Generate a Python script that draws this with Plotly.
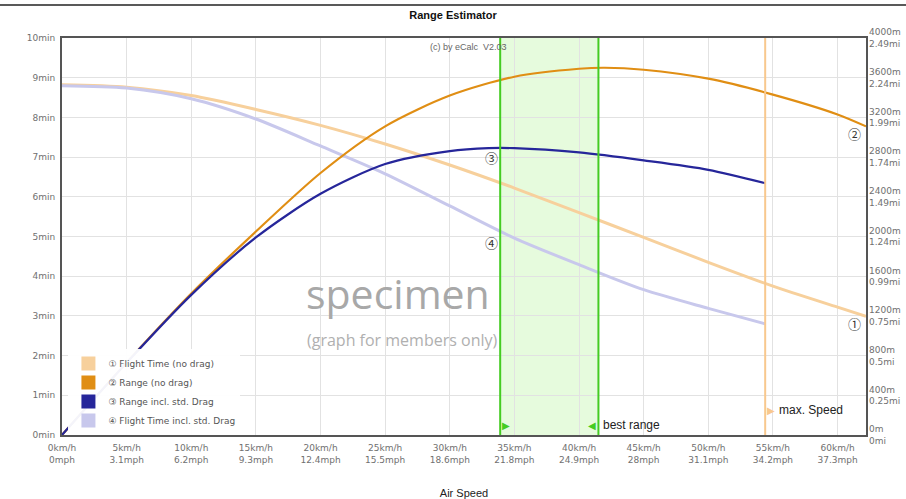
import plotly.graph_objects as go

# ---------------- data ----------------
speed_ft = [0, 5, 10, 15, 20, 25, 30, 35, 40, 45, 50, 55, 60, 62.2]
flight_time_nodrag = [8.82, 8.76, 8.55, 8.20, 7.80, 7.33, 6.80, 6.22, 5.60, 4.98, 4.35, 3.75, 3.22, 2.99]

speed_rng = [0, 5, 10, 15, 20, 25, 30, 35, 40, 42, 45, 50, 55, 60, 62.2]
range_nodrag = [0, 730, 1425, 2050, 2640, 3110, 3420, 3610, 3690, 3700, 3680, 3590, 3430, 3230, 3110]

speed_lav = [0, 5, 10, 15, 20, 25, 30, 35, 40, 45, 50, 54.4]
flight_time_drag = [8.80, 8.74, 8.47, 7.96, 7.28, 6.58, 5.77, 4.96, 4.29, 3.66, 3.19, 2.80]

speed_navy = [0, 5, 10, 15, 20, 25, 30, 33, 35, 40, 45, 50, 54.4]
range_drag = [0, 728, 1412, 1990, 2430, 2730, 2860, 2890, 2890, 2847, 2767, 2672, 2538]

best_range = [33.9, 41.5]     # km/h
max_speed = 54.4              # km/h

x_ticks = [0, 5, 10, 15, 20, 25, 30, 35, 40, 45, 50, 55, 60]
x_kmh = ["0km/h", "5km/h", "10km/h", "15km/h", "20km/h", "25km/h", "30km/h",
         "35km/h", "40km/h", "45km/h", "50km/h", "55km/h", "60km/h"]
x_mph = ["0mph", "3.1mph", "6.2mph", "9.3mph", "12.4mph", "15.5mph", "18.6mph",
         "21.8mph", "24.9mph", "28mph", "31.1mph", "34.2mph", "37.3mph"]

y_min_ticks = list(range(0, 11))
y_min_labels = [f"{v}min" for v in y_min_ticks]

y_m_ticks = [0, 400, 800, 1200, 1600, 2000, 2400, 2800, 3200, 3600, 4000]
y_mi_labels = ["0mi", "0.25mi", "0.5mi", "0.75mi", "0.99mi", "1.24mi",
               "1.49mi", "1.74mi", "1.99mi", "2.24mi", "2.49mi"]

series_names = ["\u2460 Flight Time (no drag)", "\u2461 Range (no drag)",
                "\u2462 Range incl. std. Drag", "\u2463 Flight Time incl. std. Drag"]

# ---------------- styles ----------------
C_PEACH = "#f7d09c"
C_ORANGE = "#e08e14"
C_NAVY = "#26269a"
C_LAV = "#c8c8ec"
C_GREEN = "#44cc22"
C_BAND = "#e6fbdd"
C_MAX = "#f8c88e"
TICK_FONT = dict(family="DejaVu Sans", size=9, color="#707070")
CIRC_FONT = dict(family="Noto Sans CJK SC, DejaVu Sans", size=13, color="#333333")

fig = go.Figure()

# lines
fig.add_trace(go.Scatter(x=speed_ft, y=flight_time_nodrag, mode="lines",
                         line=dict(color=C_PEACH, width=3, shape="spline", smoothing=0.8),
                         showlegend=False, hoverinfo="skip"))
fig.add_trace(go.Scatter(x=speed_lav, y=flight_time_drag, mode="lines",
                         line=dict(color=C_LAV, width=3, shape="spline", smoothing=0.8),
                         showlegend=False, hoverinfo="skip"))
fig.add_trace(go.Scatter(x=speed_rng, y=range_nodrag, mode="lines", yaxis="y2",
                         line=dict(color=C_ORANGE, width=2.2, shape="spline", smoothing=0.8),
                         showlegend=False, hoverinfo="skip"))
fig.add_trace(go.Scatter(x=speed_navy, y=range_drag, mode="lines", yaxis="y2",
                         line=dict(color=C_NAVY, width=2.2, shape="spline", smoothing=0.8),
                         showlegend=False, hoverinfo="skip"))

# legend entries (square swatches)
for name, col in zip(series_names, [C_PEACH, C_ORANGE, C_NAVY, C_LAV]):
    fig.add_trace(go.Scatter(x=[None], y=[None], mode="markers", name=name,
                             marker=dict(symbol="square", size=14, color=col)))

# best range band & lines, max speed line
fig.add_shape(type="rect", xref="x", yref="paper", x0=best_range[0], x1=best_range[1],
              y0=0, y1=1, fillcolor=C_BAND, line_width=0, layer="below")
for xv in best_range:
    fig.add_shape(type="line", xref="x", yref="paper", x0=xv, x1=xv, y0=0, y1=1,
                  line=dict(color=C_GREEN, width=2), layer="above")
fig.add_shape(type="line", xref="x", yref="paper", x0=max_speed, x1=max_speed, y0=0, y1=1,
              line=dict(color=C_MAX, width=2), layer="above")

# top separator line
fig.add_shape(type="line", xref="paper", yref="paper", x0=-0.08, x1=1.06, y0=1.083, y1=1.083,
              line=dict(color="#222222", width=1.5))

ann = []
# markers for best range / max speed
ann.append(dict(x=best_range[0], y=0.25, xref="x", yref="y", text="\u25B6", showarrow=False,
                xanchor="left", yanchor="middle", font=dict(family="DejaVu Sans", size=10, color=C_GREEN)))
ann.append(dict(x=best_range[1], y=0.25, xref="x", yref="y", text="\u25C0", showarrow=False,
                xanchor="right", yanchor="middle", font=dict(family="DejaVu Sans", size=10, color=C_GREEN)))
ann.append(dict(x=best_range[1], y=0.25, xref="x", yref="y", text="best range", showarrow=False,
                xanchor="left", yanchor="middle", xshift=3,
                font=dict(family="Liberation Sans", size=12, color="#222222")))
ann.append(dict(x=max_speed, y=0.62, xref="x", yref="y", text="\u25B6", showarrow=False,
                xanchor="left", yanchor="middle", font=dict(family="DejaVu Sans", size=10, color=C_MAX)))
ann.append(dict(x=max_speed, y=0.62, xref="x", yref="y", text="max. Speed", showarrow=False,
                xanchor="left", yanchor="middle", xshift=12,
                font=dict(family="Liberation Sans", size=12, color="#222222")))

# circled curve labels
for lx, ly, lt in [(61.3, 2.82, "\u2460"), (61.3, 7.6, "\u2461"),
                   (33.2, 6.98, "\u2462"), (33.2, 4.84, "\u2463")]:
    ann.append(dict(x=lx, y=ly, xref="x", yref="y", text=lt, showarrow=False,
                    xanchor="center", yanchor="middle", font=CIRC_FONT))

# watermark texts
ann.append(dict(x=0.418, y=0.358, xref="paper", yref="paper", text="specimen", showarrow=False,
                xanchor="center", yanchor="middle",
                font=dict(family="Open Sans", size=41, color="#a8a8a8")))
ann.append(dict(x=0.423, y=0.239, xref="paper", yref="paper", text="(graph for members only)",
                showarrow=False, xanchor="center", yanchor="middle",
                font=dict(family="Open Sans", size=16, color="#b0b0b0")))
ann.append(dict(x=0.505, y=0.977, xref="paper", yref="paper", text="(c) by eCalc&nbsp; V2.03",
                showarrow=False, xanchor="center", yanchor="middle",
                font=dict(family="Liberation Sans", size=9, color="#666666")))

fig.update_layout(
    width=906, height=499,
    margin=dict(l=62, r=40, t=38, b=64, autoexpand=False),
    paper_bgcolor="white", plot_bgcolor="white",
    title=dict(text="<b>Range Estimator</b>", x=0.5, xanchor="center",
               y=0.97, yref="container", yanchor="middle",
               font=dict(family="Liberation Sans", size=11, color="#111111")),
    xaxis=dict(range=[0, 62.2], tickvals=x_ticks, automargin=False,
               ticktext=[f"{a}<br>{b}" for a, b in zip(x_kmh, x_mph)],
               tickfont=TICK_FONT, showgrid=True, gridcolor="#e2e2e2", gridwidth=1,
               showline=True, linecolor="#555555", linewidth=2, mirror=True,
               zeroline=False, ticks="", ticklabelstandoff=3,
               title=dict(text="Air Speed", standoff=27,
                          font=dict(family="Liberation Sans", size=11, color="#222222"))),
    yaxis=dict(range=[0, 10], tickvals=y_min_ticks, ticktext=y_min_labels, tickfont=TICK_FONT,
               automargin=False, showgrid=True, gridcolor="#e2e2e2", gridwidth=1,
               showline=True, linecolor="#555555", linewidth=2, mirror=True,
               zeroline=False, ticks="", ticklabelstandoff=3),
    yaxis2=dict(range=[0, 4000], tickvals=y_m_ticks, automargin=False,
                ticktext=[f"{m}m<br>{mi}" for m, mi in zip(y_m_ticks, y_mi_labels)],
                tickfont=TICK_FONT, overlaying="y", side="right", showgrid=False,
                zeroline=False, showline=False, ticks="", ticklabelstandoff=2),
    legend=dict(x=0.008, y=0.0, xanchor="left", yanchor="bottom",
                bgcolor="rgba(255,255,255,0.95)", borderwidth=0,
                font=dict(family="DejaVu Sans, Noto Sans CJK SC", size=9, color="#555555"),
                itemwidth=30, tracegroupgap=0),
    annotations=ann,
    showlegend=True,
)

fig.write_html("out.html", config={"displayModeBar": False},
               post_script="document.body.style.margin='0';")
